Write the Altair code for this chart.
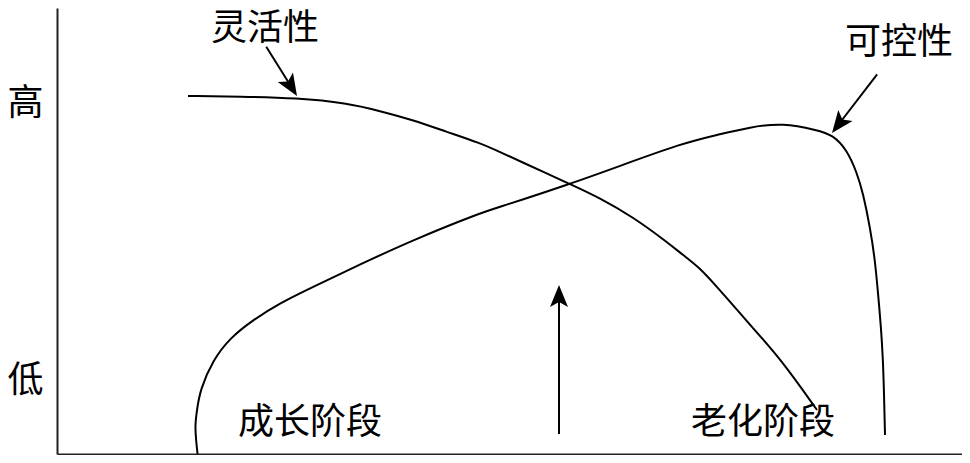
import altair as alt
import numpy as np
import pandas as pd

# ---- values (picture pixel units) ----
# 灵活性 (flexibility) curve
flex_x = [188, 240, 297, 347, 380, 413, 447, 480, 500, 550, 570, 600, 633, 667, 683, 700, 717,
          733, 750, 780, 817]
flex_y = [96, 96.5, 98, 103, 111, 120, 132, 143, 152, 175, 184, 198, 217, 242, 255, 268, 287,
          305, 325, 358, 410]
# 可控性 (controllability) curve
ctrl_x = [198, 196, 195, 197, 200, 213, 230, 253, 280, 313, 363, 413, 480, 500, 570, 617, 683, 717,
          750, 783, 817, 833, 847, 857, 863, 870, 875, 878, 881, 883, 884, 885]
ctrl_y = [458, 440, 425, 410, 390, 360, 338, 320, 303, 287, 263, 240, 213, 207, 184, 167, 143, 135,
          127, 123, 130, 135, 150, 173, 193, 227, 260, 293, 327, 360, 393, 435]

# arrows: start point and tip point
arrow_x0 = [262, 882, 559]
arrow_y0 = [40, 68, 442]
arrow_x1 = [297, 832, 559]
arrow_y1 = [96, 133, 285]

# free text labels
text_labels = ["灵活性", "可控性", "成长阶段", "老化阶段"]
text_x = [265, 899, 310, 763]
text_y = [19, 43, 423, 423]

# y-axis level labels
level_labels = ["高", "低"]
level_y = [103, 380]

# ---- layout (page has an 8px margin; content must fit 954 x 447) ----
FONT = "Noto Sans CJK SC"
FS = 36
PAD_L, PAD_B = 49, 1
TOTAL_W, TOTAL_H = 954, 447
W = TOTAL_W - PAD_L
H = TOTAL_H - PAD_B
X_DOMAIN = [8 + PAD_L, 8 + PAD_L + W]
Y_DOMAIN = [8 + H, 8]

xs = alt.Scale(domain=X_DOMAIN, nice=False, zero=False)
ys = alt.Scale(domain=Y_DOMAIN, nice=False, zero=False)

curves = pd.concat([
    pd.DataFrame({"x": flex_x, "y": flex_y, "series": "灵活性", "i": range(len(flex_x))}),
    pd.DataFrame({"x": ctrl_x, "y": ctrl_y, "series": "可控性", "i": range(len(ctrl_x))}),
])

ax0 = np.array(arrow_x0, float); ay0 = np.array(arrow_y0, float)
ax1 = np.array(arrow_x1, float); ay1 = np.array(arrow_y1, float)
dx = ax1 - ax0; dy = ay1 - ay0
ln = np.hypot(dx, dy)
arrows = pd.DataFrame({
    "xs": ax0 + dx / ln * 8, "ys": ay0 + dy / ln * 8,
    "xe": ax1 - dx / ln * 12, "ye": ay1 - dy / ln * 12,
    "x1": ax1, "y1": ay1,
    "angle": np.degrees(np.arctan2(dx, -dy)) % 360,
})

texts = pd.DataFrame({"label": text_labels, "x": text_x,
                      "y": np.maximum(np.array(text_y, float), 8 + FS / 2 + 3)})

label_expr = " : ".join(
    f"datum.value == {v} ? '{t}'" for v, t in zip(level_y, level_labels)
) + " : ''"

x_axis = alt.Axis(labels=False, ticks=False, grid=False, title=None,
                  domainColor="#222", domainWidth=2)
y_axis = alt.Axis(values=level_y, labelExpr=label_expr, ticks=False, grid=False, title=None,
                  labelFont=FONT, labelFontSize=FS, labelColor="black", labelPadding=14,
                  domainColor="#222", domainWidth=2)

base_lines = alt.Chart(curves).mark_line(
    color="black", strokeWidth=2, interpolate="basis", clip=True
).encode(
    x=alt.X("x:Q", scale=xs, axis=x_axis),
    y=alt.Y("y:Q", scale=ys, axis=y_axis),
    detail="series:N",
    order="i:Q",
)

shafts = alt.Chart(arrows).mark_rule(color="black", strokeWidth=2).encode(
    x=alt.X("xs:Q", scale=xs), y=alt.Y("ys:Q", scale=ys),
    x2="xe:Q", y2="ye:Q",
)

heads = alt.Chart(arrows).mark_point(
    shape="M0,0L0.45,1.1L0,0.85L-0.45,1.1Z", filled=True, color="black",
    size=1600, opacity=1, strokeWidth=0,
).encode(
    x=alt.X("x1:Q", scale=xs), y=alt.Y("y1:Q", scale=ys),
    angle=alt.Angle("angle:Q", scale=None),
)

labels = alt.Chart(texts).mark_text(
    font=FONT, fontSize=FS, color="black", align="center", baseline="middle"
).encode(
    x=alt.X("x:Q", scale=xs), y=alt.Y("y:Q", scale=ys), text="label:N",
)

chart = alt.layer(base_lines, shafts, heads, labels).properties(
    width=W, height=H,
    autosize=alt.AutoSizeParams(type="none"),
    padding={"left": PAD_L, "top": 0, "right": 0, "bottom": PAD_B},
    background="white",
).configure_view(stroke=None)

chart.save("out.html", embed_options={"renderer": "svg", "actions": False})
